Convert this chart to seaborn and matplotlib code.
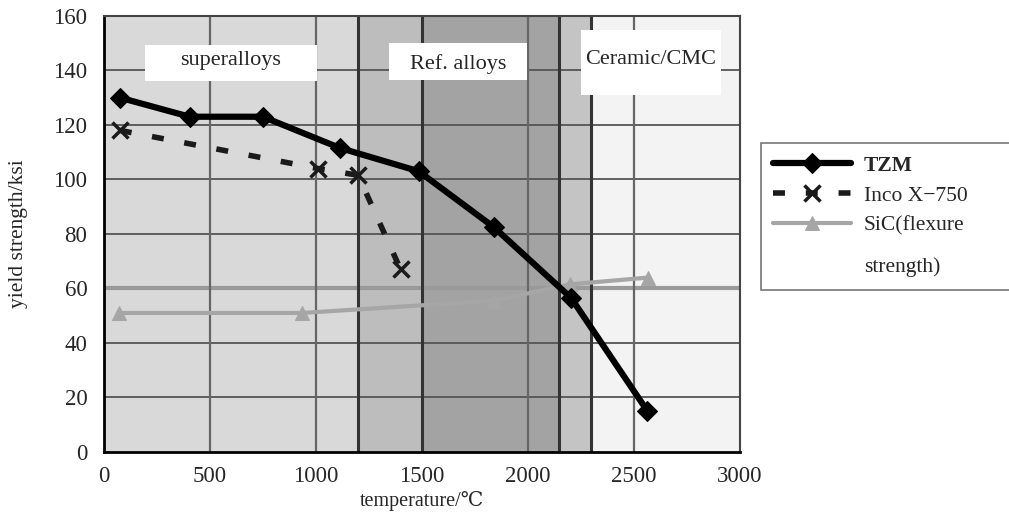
import matplotlib
matplotlib.use("Agg")
import matplotlib.pyplot as plt
import seaborn as sns
import pandas as pd
from matplotlib.patches import Rectangle
from matplotlib.lines import Line2D

# datos
tzm_temp = [75, 405, 750, 1115, 1485, 1840, 2205, 2565]
tzm_ys = [130, 123, 123, 111.5, 103, 82.5, 56.5, 15]

inco_temp = [75, 1010, 1200, 1400]
inco_ys = [118, 104, 101.5, 67]

sic_temp = [70, 935, 1840, 2200, 2570]
sic_ys = [51, 51, 55.5, 61.5, 64]

# zonas de fondo: (inicio, fin, color)
zonas = [(0, 1200, "#d9d9d9"), (1200, 1500, "#bdbdbd"), (1500, 2150, "#a3a3a3"),
         (2150, 2300, "#c4c4c4"), (2300, 3000, "#f3f3f3")]
etiquetas = ["superalloys", "Ref. alloys", "Ceramic/CMC"]

sns.set_theme(style="white")
plt.rcParams['font.family'] = ['Liberation Serif', 'DejaVu Serif']

fig = plt.figure(figsize=(10.09, 5.13), dpi=100)
ax = fig.add_axes([0.103, 0.119, 0.630, 0.850])

for x0, x1, c in zonas:
    ax.axvspan(x0, x1, color=c, zorder=0, lw=0)

for y in range(20, 160, 20):
    ax.axhline(y, color="#9a9a9a" if y == 60 else "#555555",
               lw=3 if y == 60 else 1.3, zorder=1)
for x in [500, 1000, 2000, 2500]:
    ax.axvline(x, color="#666666", lw=1.6, zorder=1)
for x in [1200, 1500, 2150, 2300]:
    ax.axvline(x, color="#333333", lw=2.2, zorder=1)

# cajas blancas con los nombres de las zonas
cajas = [(195, 136, 810, 13.5), (1345, 136.5, 650, 13.5), (2250, 131, 660, 24)]
for (x0, y0, w, h), txt in zip(cajas, etiquetas):
    ax.add_patch(Rectangle((x0, y0), w, h, facecolor="white", edgecolor="none", zorder=2))
for (x0, y0, w, h), txt, ty in zip(cajas, etiquetas, [143.5, 142.5, 144]):
    ax.text(x0 + w / 2, ty, txt, ha="center", va="center", fontsize=16, zorder=3)

df_tzm = pd.DataFrame({"t": tzm_temp, "y": tzm_ys})
df_inco = pd.DataFrame({"t": inco_temp, "y": inco_ys})
df_sic = pd.DataFrame({"t": sic_temp, "y": sic_ys})

sns.lineplot(data=df_sic, x="t", y="y", ax=ax, color="#a6a6a6", lw=3,
             marker="^", markersize=10, markeredgecolor="#a6a6a6",
             label="SiC(flexure", zorder=4)
sns.lineplot(data=df_inco, x="t", y="y", ax=ax, color="#1a1a1a", lw=4,
             linestyle=(0, (2.15, 3.75)), dash_capstyle="butt",
             marker="x", markersize=12, markeredgewidth=2.5, markeredgecolor="#1a1a1a",
             label="Inco X\u2212750", zorder=5)
sns.lineplot(data=df_tzm, x="t", y="y", ax=ax, color="black", lw=4.5,
             marker="D", markersize=10, markeredgecolor="black", label="TZM", zorder=6)

ax.set_xlim(0, 3000)
ax.set_ylim(0, 160)
ax.set_xticks(range(0, 3001, 500))
ax.set_yticks(range(0, 161, 20))
ax.tick_params(axis="both", labelsize=16.5, length=0)
ax.tick_params(axis="x", pad=10)
ax.tick_params(axis="y", pad=12)
ax.set_xlabel("temperature/\u2103", fontsize=14.5, labelpad=3)
ax.set_ylabel("yield strength/ksi", fontsize=15.5, labelpad=18)

for s in ["left", "bottom"]:
    ax.spines[s].set_color("black")
    ax.spines[s].set_linewidth(2)
for s in ["top", "right"]:
    ax.spines[s].set_color("#444444")
    ax.spines[s].set_linewidth(1.5)

h, l = ax.get_legend_handles_labels()
h = h[::-1] + [Line2D([], [], color="none")]
l = l[::-1] + ["\nstrength)"]
leg = ax.legend(h, l, loc="upper left", bbox_to_anchor=(1.033, 0.381, 0.423, 0.328),
                mode="expand", fontsize=15.5, frameon=True, fancybox=False,
                edgecolor="#555555", handlelength=3.6, handletextpad=0.6,
                borderpad=0.6, labelspacing=0.45, borderaxespad=0)
leg.get_frame().set_linewidth(1.2)
leg.get_texts()[0].set_fontweight("bold")
leg.get_texts()[3].set_linespacing(0.55)

fig.savefig("out.png", dpi=100)
